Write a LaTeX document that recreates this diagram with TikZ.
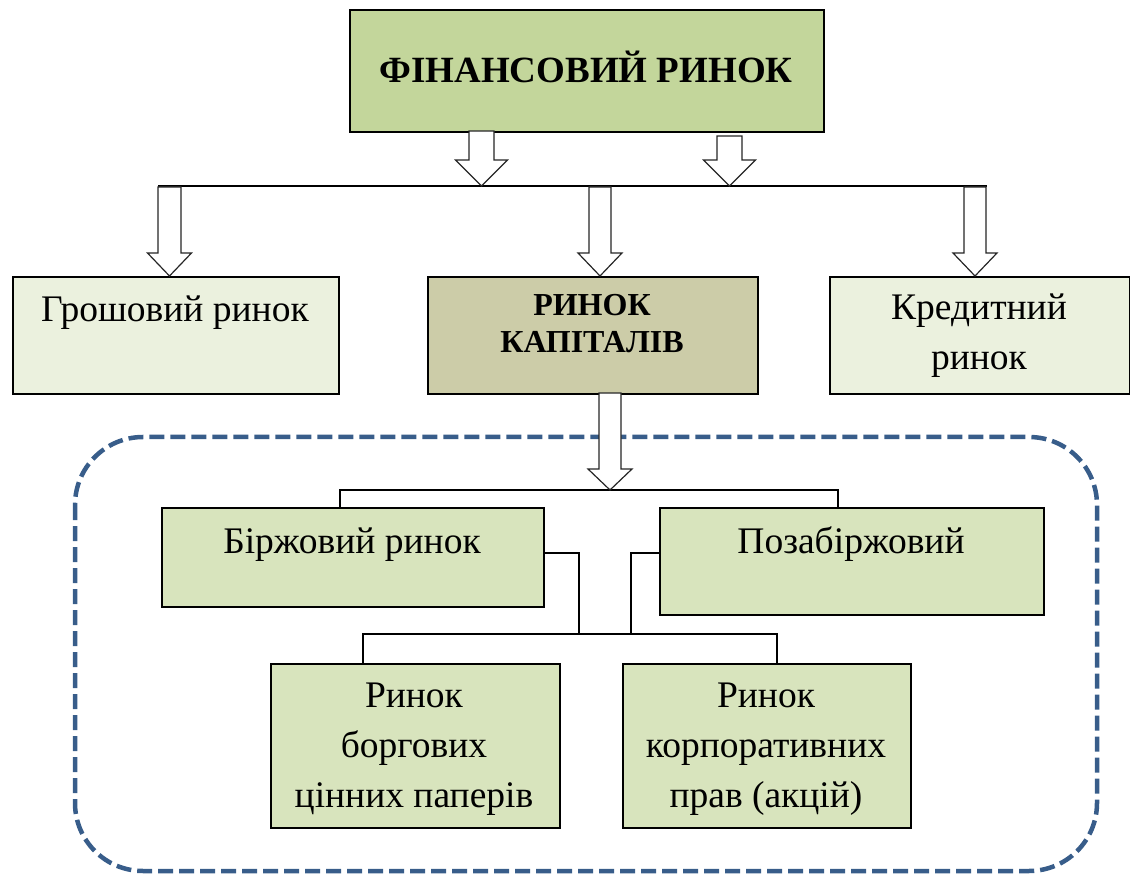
\documentclass[tikz,border=0pt]{standalone}
\usepackage{fontspec}
\setmainfont{Liberation Serif}
\definecolor{titlefill}{RGB}{195,214,155}
\definecolor{palefill}{RGB}{235,241,222}
\definecolor{khakifill}{RGB}{204,204,168}
\definecolor{subfill}{RGB}{216,228,189}
\definecolor{groupline}{RGB}{56,93,138}
\tikzset{
  box/.style={draw=black, line width=2pt, inner sep=0pt, anchor=north west},
  % anchor=base sits on the baseline of the last line of a label
  lbl/.style={anchor=base, align=center, inner sep=0pt, font=\fontsize{37.5}{50}\selectfont},
  link/.style={draw=black, line width=1.8pt},
  blockarrow/.style={draw=black!85, line width=1.2pt, fill=white, line join=miter},
  group/.style={draw=groupline, line width=4.5pt, dash pattern=on 15pt off 6pt, rounded corners=68pt}
}
% hollow block arrow: centre x, top y, neck y, tip y, half shaft, half head
\newcommand\hollowarrow[6]{%
  \draw[blockarrow] (#1-#5,#2) -- (#1+#5,#2) -- (#1+#5,#3) -- (#1+#6,#3)
    -- (#1,#4) -- (#1-#6,#3) -- (#1-#5,#3) -- cycle;}
\begin{document}
\begin{tikzpicture}[x=1pt,y=-1pt]
\useasboundingbox (0,0) rectangle (1130,874);

% grouping frame around the capital-market parts
\draw[group] (75,437) rectangle (1097,871);

% top level
\node[box, fill=titlefill, minimum width=474pt, minimum height=122pt] (fin) at (349,9) {};
\node[lbl, font=\fontsize{37}{44}\bfseries\selectfont] (fin-t) at (586,83) {ФІНАНСОВИЙ РИНОК};

% second level
\node[box, fill=palefill, minimum width=326pt, minimum height=117pt] (money) at (12,276) {};
\node[lbl] (money-t) at (175,322) {Грошовий ринок};
\node[box, fill=khakifill, minimum width=330pt, minimum height=117pt] (capital) at (427,276) {};
\node[lbl, font=\fontsize{32}{37}\bfseries\selectfont] (capital-t) at (592,353) {РИНОК\\КАПІТАЛІВ};
\node[box, fill=palefill, minimum width=300pt, minimum height=117pt] (credit) at (829,276) {};
\node[lbl] (credit-t) at (979,370) {Кредитний\\ринок};

% third level
\node[box, fill=subfill, minimum width=382pt, minimum height=99pt] (exch) at (161,507) {};
\node[lbl] (exch-t) at (352,553) {Біржовий ринок};
\node[box, fill=subfill, minimum width=384pt, minimum height=107pt] (otc) at (659,507) {};
\node[lbl] (otc-t) at (851,553) {Позабіржовий};

% fourth level
\node[box, fill=subfill, minimum width=289pt, minimum height=164pt] (debt) at (270,663) {};
\node[lbl] (debt-t) at (414,807) {Ринок\\боргових\\цінних паперів};
\node[box, fill=subfill, minimum width=288pt, minimum height=164pt] (equity) at (622,663) {};
\node[lbl] (equity-t) at (766,807) {Ринок\\корпоративних\\прав (акцій)};

% branching lines
\coordinate (busA-l) at (158,186);
\coordinate (busA-r) at (987,186);
\draw[link] (busA-l) -- (busA-r);

\coordinate (busB-l) at (340,490);
\coordinate (busB-r) at (838,490);
\draw[link] (exch.north -| busB-l) -- (busB-l) -- (busB-r) -- (otc.north -| busB-r);

\coordinate (busC-l) at (363,634);
\coordinate (busC-r) at (777,634);
\coordinate (joinA) at (579,634);
\coordinate (joinB) at (631,634);
\draw[link] (exch.east |- 0,553) -- (joinA |- 0,553) -- (joinA);
\draw[link] (otc.west |- 0,553) -- (joinB |- 0,553) -- (joinB);
\draw[link] (debt.north -| busC-l) -- (busC-l) -- (busC-r) -- (equity.north -| busC-r);

% hollow arrows
\hollowarrow{481.5}{131}{160}{186}{12.5}{26}
\hollowarrow{729.5}{136}{160}{186}{12.5}{26}
\hollowarrow{169.5}{187}{253}{276}{11.5}{22}
\hollowarrow{600}{187}{253}{276}{11}{22}
\hollowarrow{975}{187}{253}{276}{11}{22}
\hollowarrow{610}{393}{469}{490}{11}{22}
\end{tikzpicture}
\end{document}
